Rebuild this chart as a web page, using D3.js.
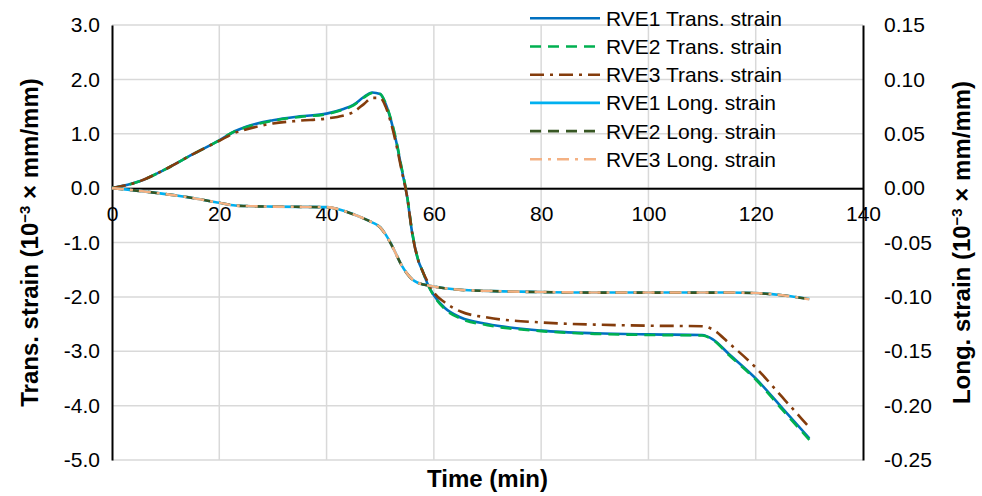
<!DOCTYPE html>
<html lang="en">
<head>
<meta charset="UTF-8">
<title>RVE strain vs time</title>
<style>
  body { margin: 0; background: #fff; }
  svg text { font-family: "Liberation Sans", Arial, sans-serif; fill: #000; }
  .tick text { font-size: 21px; }
  .title { font-size: 24px; font-weight: bold; }
  .legend text { font-size: 21px; }
  .grid line { stroke: #d9d9d9; stroke-width: 1.5; }
</style>
</head>
<body>
<div id="chart"></div>
<script src="https://d3js.org/d3.v7.min.js"></script>
<script>
// time (min) shared by all series
var time = [0, 5, 10, 15, 20, 23, 25, 30, 35, 40, 43, 45, 47, 48.5, 50, 51, 52, 53, 54, 55, 56, 57, 58, 59, 60, 62, 65, 70, 80, 90, 100, 110, 112, 115, 120, 125, 130];

// transverse strain (left axis)
var rve1Trans = [0, 0.12, 0.35, 0.62, 0.88, 1.05, 1.13, 1.25, 1.32, 1.37, 1.45, 1.53, 1.68, 1.76, 1.73, 1.55, 1.25, 0.85, 0.35, -0.15, -0.85, -1.3, -1.55, -1.8, -1.97, -2.2, -2.38, -2.5, -2.62, -2.67, -2.69, -2.7, -2.78, -3.05, -3.5, -4.05, -4.6];
var rve2Trans = [0, 0.12, 0.35, 0.62, 0.88, 1.05, 1.12, 1.24, 1.31, 1.36, 1.44, 1.52, 1.67, 1.75, 1.73, 1.56, 1.27, 0.87, 0.37, -0.13, -0.83, -1.29, -1.55, -1.8, -1.98, -2.22, -2.4, -2.52, -2.63, -2.68, -2.7, -2.71, -2.79, -3.07, -3.52, -4.08, -4.63];
var rve3Trans = [0, 0.12, 0.35, 0.62, 0.87, 1.02, 1.08, 1.19, 1.24, 1.28, 1.33, 1.4, 1.55, 1.66, 1.66, 1.5, 1.2, 0.8, 0.32, -0.15, -0.85, -1.3, -1.55, -1.75, -1.92, -2.1, -2.27, -2.38, -2.47, -2.51, -2.53, -2.54, -2.6, -2.85, -3.3, -3.85, -4.4];

// longitudinal strain (right axis)
var rve1Long = [0, -0.0025, -0.0055, -0.009, -0.0135, -0.016, -0.0165, -0.017, -0.0172, -0.0175, -0.0205, -0.024, -0.028, -0.0315, -0.036, -0.0425, -0.051, -0.061, -0.071, -0.0785, -0.084, -0.087, -0.0885, -0.0895, -0.0905, -0.092, -0.0935, -0.0945, -0.0955, -0.096, -0.096, -0.096, -0.096, -0.096, -0.0965, -0.0985, -0.102];
var rve2Long = [0, -0.0025, -0.0055, -0.009, -0.0135, -0.016, -0.0165, -0.017, -0.0172, -0.0176, -0.0206, -0.0241, -0.0281, -0.0316, -0.0362, -0.0428, -0.0512, -0.0612, -0.0712, -0.0786, -0.0841, -0.0871, -0.0886, -0.0896, -0.0906, -0.0921, -0.0936, -0.0946, -0.0956, -0.0961, -0.0961, -0.0961, -0.0961, -0.0961, -0.0966, -0.0986, -0.1021];
var rve3Long = [0, -0.0025, -0.0055, -0.009, -0.0135, -0.016, -0.0165, -0.017, -0.0172, -0.0175, -0.0205, -0.024, -0.028, -0.0315, -0.0361, -0.0426, -0.0511, -0.0611, -0.0711, -0.0785, -0.084, -0.087, -0.0885, -0.0895, -0.0905, -0.092, -0.0935, -0.0945, -0.0955, -0.096, -0.096, -0.096, -0.096, -0.096, -0.0965, -0.0985, -0.1022];

var xTicks = [0, 20, 40, 60, 80, 100, 120, 140];
var yLeftTicks = [3, 2, 1, 0, -1, -2, -3, -4, -5];
var yRightTicks = [0.15, 0.10, 0.05, 0, -0.05, -0.10, -0.15, -0.20, -0.25];

var width = 982, height = 496;
var padding = { left: 112, right: 119, top: 25, bottom: 36 };

var series = [
  { name: 'RVE1 Trans. strain', values: rve1Trans, axis: 'left', color: '#0070c0', dash: null },
  { name: 'RVE2 Trans. strain', values: rve2Trans, axis: 'left', color: '#00b050', dash: '11,7' },
  { name: 'RVE3 Trans. strain', values: rve3Trans, axis: 'left', color: '#843c0c', dash: '14,6,3,6' },
  { name: 'RVE1 Long. strain', values: rve1Long, axis: 'right', color: '#00b0f0', dash: null },
  { name: 'RVE2 Long. strain', values: rve2Long, axis: 'right', color: '#375623', dash: '11,7' },
  { name: 'RVE3 Long. strain', values: rve3Long, axis: 'right', color: '#f4b183', dash: '12,6,3,6' }
];

var svg = d3.select('#chart').append('svg').attr('width', width).attr('height', height);

var xScale = d3.scaleLinear().domain([0, 140]).range([padding.left, width - padding.right]);
var yLeft = d3.scaleLinear().domain([-5, 3]).range([height - padding.bottom, padding.top]);
var yRight = d3.scaleLinear().domain([-0.25, 0.15]).range([height - padding.bottom, padding.top]);

// grid
var grid = svg.append('g').attr('class', 'grid');
grid.selectAll('line.h')
  .data(yLeftTicks)
  .enter().append('line')
  .attr('class', 'h')
  .attr('x1', xScale(0)).attr('x2', xScale(140))
  .attr('y1', function(d) { return yLeft(d); })
  .attr('y2', function(d) { return yLeft(d); });
grid.selectAll('line.v')
  .data(xTicks.slice(1, -1))
  .enter().append('line')
  .attr('class', 'v')
  .attr('y1', yLeft(3)).attr('y2', yLeft(-5))
  .attr('x1', function(d) { return xScale(d); })
  .attr('x2', function(d) { return xScale(d); });

// axes
var fmt1 = function(d) { return d.toFixed(1); };
var fmt2 = function(d) { return d.toFixed(2); };

var leftAxis = svg.append('g')
  .attr('transform', 'translate(' + xScale(0) + ',0)')
  .call(d3.axisLeft(yLeft).tickValues(yLeftTicks).tickFormat(fmt1).tickSize(0).tickPadding(12));
var rightAxis = svg.append('g')
  .attr('transform', 'translate(' + xScale(140) + ',0)')
  .call(d3.axisRight(yRight).tickValues(yRightTicks).tickFormat(fmt2).tickSize(0).tickPadding(21));
var bottomAxis = svg.append('g')
  .attr('transform', 'translate(0,' + yLeft(0) + ')')
  .call(d3.axisBottom(xScale).tickValues(xTicks).tickFormat(d3.format('d')).tickSize(0).tickPadding(18));
[leftAxis, rightAxis, bottomAxis].forEach(function(a) {
  a.select('.domain').attr('stroke', '#000').attr('stroke-width', 2);
  a.selectAll('text').style('font-family', '"Liberation Sans", Arial, sans-serif').style('font-size', '21px');
});

// lines
var lineWrap = svg.append('g').attr('class', 'lines');
series.forEach(function(s) {
  var yS = s.axis === 'left' ? yLeft : yRight;
  var line = d3.line()
    .x(function(d, i) { return xScale(time[i]); })
    .y(function(d) { return yS(d); })
    .curve(d3.curveMonotoneX);
  lineWrap.append('path')
    .attr('d', line(s.values))
    .attr('fill', 'none')
    .attr('stroke', s.color)
    .attr('stroke-width', 2.6)
    .attr('stroke-dasharray', s.dash);
});

// legend (no background, grid shows through)
var legend = svg.append('g').attr('class', 'legend');
var legItems = legend.selectAll('g')
  .data(series)
  .enter().append('g')
  .attr('transform', function(d, i) { return 'translate(530,' + (18.3 + i * 28.2) + ')'; });
legItems.append('line')
  .attr('x1', 0).attr('x2', 70)
  .attr('stroke', function(d) { return d.color; })
  .attr('stroke-width', 2.6)
  .attr('stroke-dasharray', function(d) { return d.dash; });
legItems.append('text')
  .attr('x', 76).attr('dy', '0.36em')
  .text(function(d) { return d.name; });

// axis titles
var leftTitle = svg.append('text')
  .attr('class', 'title')
  .attr('text-anchor', 'middle')
  .attr('transform', 'translate(38,' + yLeft(-1) + ') rotate(-90)');
leftTitle.append('tspan').text('Trans. strain (10');
leftTitle.append('tspan').attr('baseline-shift', 'super').style('font-size', '15px').text('\u22123');
leftTitle.append('tspan').text(' \u00d7 mm/mm)');

var rightTitle = svg.append('text')
  .attr('class', 'title')
  .attr('text-anchor', 'middle')
  .attr('transform', 'translate(970,' + yLeft(-1) + ') rotate(-90)');
rightTitle.append('tspan').text('Long. strain (10');
rightTitle.append('tspan').attr('baseline-shift', 'super').style('font-size', '15px').text('\u22123');
rightTitle.append('tspan').text(' \u00d7 mm/mm)');

svg.append('text')
  .attr('class', 'title')
  .attr('text-anchor', 'middle')
  .attr('x', (xScale(0) + xScale(140)) / 2)
  .attr('y', 487)
  .text('Time (min)');
</script>
</body>
</html>
